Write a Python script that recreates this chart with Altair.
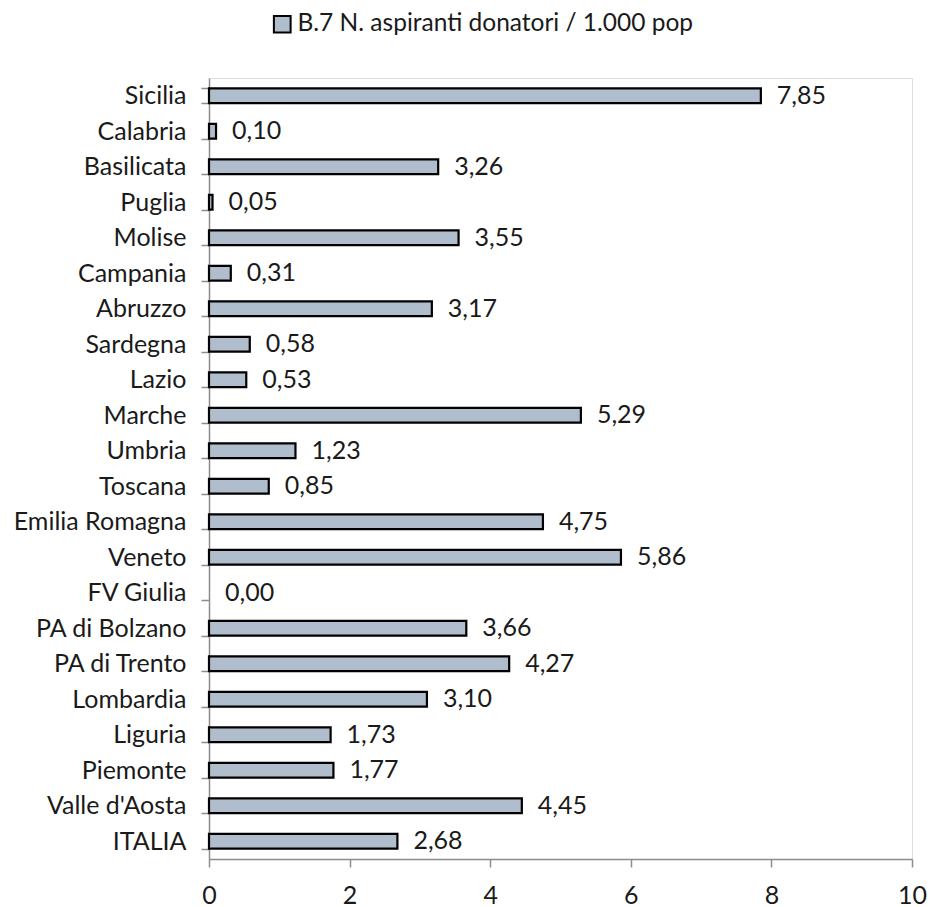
import altair as alt
import pandas as pd

regions = ["Sicilia", "Calabria", "Basilicata", "Puglia", "Molise", "Campania",
           "Abruzzo", "Sardegna", "Lazio", "Marche", "Umbria", "Toscana",
           "Emilia Romagna", "Veneto", "FV Giulia", "PA di Bolzano", "PA di Trento",
           "Lombardia", "Liguria", "Piemonte", "Valle d'Aosta", "ITALIA"]
values = [7.85, 0.10, 3.26, 0.05, 3.55, 0.31, 3.17, 0.58, 0.53, 5.29, 1.23, 0.85,
          4.75, 5.86, 0.00, 3.66, 4.27, 3.10, 1.73, 1.77, 4.45, 2.68]
series_name = "B.7 N. aspiranti donatori / 1.000 pop"
x_ticks = [0, 2, 4, 6, 8, 10]

df = pd.DataFrame({"regione": regions, "valore": values})
df["label"] = [f"{v:.2f}".replace(".", ",") for v in values]
df["serie"] = series_name

FONT = "Lato"
FS = 25
TXT = "#1a1a1a"
AX = "#8c8c8c"

y_enc = alt.Y("regione:N", sort=regions, title=None,
              scale=alt.Scale(paddingInner=0.59, paddingOuter=0.295),
              axis=alt.Axis(tickBand="extent", tickSize=8, labelPadding=15,
                            labelFont=FONT, labelFontSize=FS, labelColor=TXT,
                            domainColor=AX, tickColor=AX,
                            domainWidth=1.5, tickWidth=1.5))
x_enc = alt.X("valore:Q", title=None,
              scale=alt.Scale(domain=[0, 10], nice=False),
              axis=alt.Axis(values=x_ticks, format="d", grid=False, tickSize=8,
                            labelPadding=16,
                            labelFont=FONT, labelFontSize=FS, labelColor=TXT,
                            domainColor=AX, tickColor=AX,
                            domainWidth=1.5, tickWidth=1.5, labelFlush=False))

bars = alt.Chart(df).mark_bar(stroke="black", strokeWidth=2.2).encode(
    y=y_enc,
    x=x_enc,
    color=alt.Color("serie:N", scale=alt.Scale(range=["#afbdcd"]),
                    legend=alt.Legend(title=None, orient="none", legendX=61, legendY=-66,
                                      symbolType="square", symbolSize=280,
                                      symbolStrokeColor="black", symbolStrokeWidth=2,
                                      labelFont=FONT, labelFontSize=24.5, labelOffset=3,
                                      labelColor=TXT, labelLimit=800)),
    strokeOpacity=alt.condition("datum.valore > 0", alt.value(1), alt.value(0)),
)

labels = alt.Chart(df).mark_text(align="left", baseline="middle", dx=16,
                                 font=FONT, fontSize=FS, color=TXT).encode(
    y=alt.Y("regione:N", sort=regions),
    x=alt.X("valore:Q"),
    text="label:N",
)

chart = alt.layer(bars, labels).properties(
    width=703, height=781,
    autosize=alt.AutoSizeParams(type="none"),
    padding={"left": 209, "top": 78, "right": 20, "bottom": 48},
).configure_view(stroke=None).configure(background="white")

chart.save("out.html", embed_options={"renderer": "svg", "actions": False})
